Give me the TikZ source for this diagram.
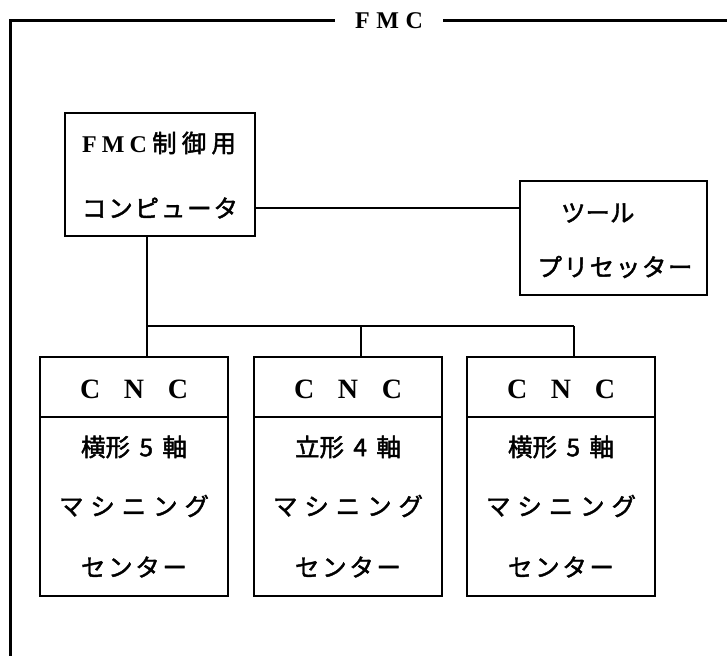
\documentclass[tikz,border=0pt]{standalone}
\usepackage{fontspec}
\setmainfont{Liberation Serif}
\newfontfamily\jp[FakeBold=1.8]{Noto Sans CJK JP}
\newcommand\spreadtxt[2]{\makebox[#1][s]{#2}}
\newcommand\lat[1]{{\bfseries\rmfamily\fontsize{24}{24}\selectfont #1}}
\begin{document}
\begin{tikzpicture}[x=1pt,y=-1pt,
  framel/.style={line width=3pt, line join=miter},
  boxn/.style={draw, line width=1.6pt, inner sep=0pt, minimum width=188pt, minimum height=239pt},
  link/.style={line width=1.2pt},
  drop/.style={line width=2.2pt},
  jt/.style={font=\jp\fontsize{24.5}{24.5}\selectfont, inner sep=0pt},
  lt/.style={font=\bfseries\fontsize{24}{24}\selectfont, inner sep=0pt},
  cnct/.style={font=\bfseries\fontsize{28}{28}\selectfont, inner sep=0pt}]
\useasboundingbox (0,0) rectangle (727,656);

% outer frame with title
\node[lt, inner xsep=20pt] (title) at (389,21) {\spreadtxt{68pt}{F\hfill M\hfill C}};
\coordinate (fl) at (10,20);
\coordinate (fb) at (10,656);
\coordinate (fr) at (727,20);
\draw[framel] (title.west |- fl) -- (fl) -- (fb);
\draw[framel] (title.east |- fr) -- (fr);

% FMC control computer
\node[draw, line width=1.6pt, minimum width=190pt, minimum height=123pt, inner sep=0pt] (fmc) at (160,174.5) {};
\node[jt] (fmct1) at (159,143) {\spreadtxt{154pt}{\lat{F}\hfill\lat{M}\hfill\lat{C}\hfill 制\hfill 御\hfill 用}};
\node[jt] (fmct2) at (160,208) {\spreadtxt{156pt}{コ\hfill ン\hfill ピ\hfill ュ\hfill ー\hfill タ}};

% tool presetter
\node[draw, line width=1.6pt, minimum width=187pt, minimum height=114pt, inner sep=0pt] (tp) at (613.5,238) {};
\node[jt] (tpt1) at (597,213) {\spreadtxt{72pt}{ツ\hfill ー\hfill ル}};
\node[jt] (tpt2) at (615,267) {\spreadtxt{155pt}{プ\hfill リ\hfill セ\hfill ッ\hfill タ\hfill ー}};

\coordinate (ly) at (0,208);
\draw[link] (fmc.east |- ly) -- (tp.west |- ly);

% CNC boxes
\foreach \n/\cx/\kind in {1/134/横形\hfill 5\hfill 軸, 2/348/立形\hfill 4\hfill 軸, 3/561/横形\hfill 5\hfill 軸} {
  \node[boxn] (cnc\n) at (\cx,476.5) {};
  \coordinate (dv\n) at (0,417);
  \draw[line width=1.4pt] (cnc\n.west |- dv\n) -- (cnc\n.east |- dv\n);
  \node[cnct] (cnca\n) at (\cx,389) {\spreadtxt{108pt}{C\hfill N\hfill C}};
  \node[jt] (cncb\n) at (\cx,447) {\spreadtxt{106pt}{\kind}};
  \node[jt] (cncc\n) at (\cx,506) {\spreadtxt{150pt}{マ\hfill シ\hfill ニ\hfill ン\hfill グ}};
  \node[jt] (cncd\n) at (\cx,567) {\spreadtxt{106pt}{セ\hfill ン\hfill タ\hfill ー}};
}

% bus
\coordinate (fmcdrop) at (147,236);
\coordinate (bus) at (0,326);
\coordinate (d1) at (147,357);
\coordinate (d2) at (361,357);
\coordinate (d3) at (574,357);
\draw[drop] (fmcdrop) -- (fmcdrop |- bus);
\draw[link] (d1 |- bus) -- (d3 |- bus);
\draw[link] (d1 |- bus) -- (d1);
\draw[link] (d2 |- bus) -- (d2);
\draw[link] (d3 |- bus) -- (d3);
\end{tikzpicture}
\end{document}
